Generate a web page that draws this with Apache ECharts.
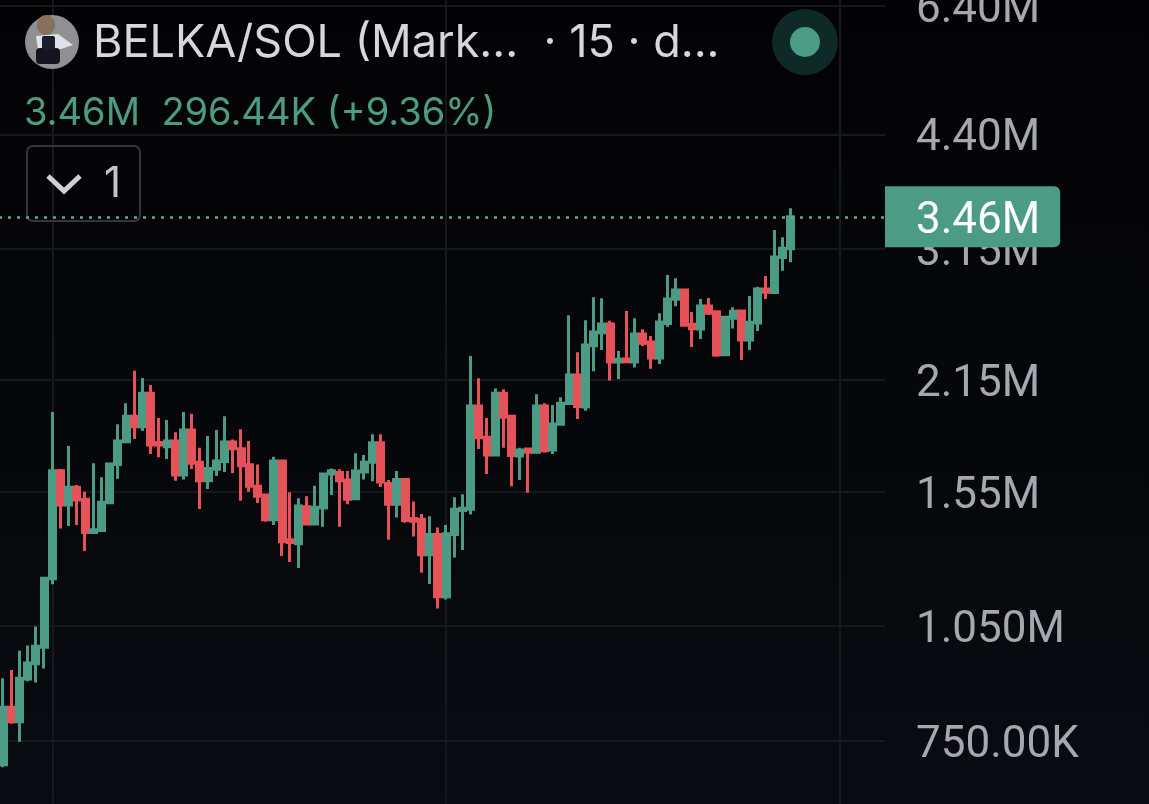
<!DOCTYPE html>
<html>
<head>
<meta charset="utf-8">
<title>BELKA/SOL</title>
<style>
  html, body { margin: 0; padding: 0; background: #08090d; }
  #chart { width: 1149px; height: 804px; }
</style>
<script src="https://cdn.jsdelivr.net/npm/echarts@6/dist/echarts.min.js"></script>
</head>
<body>
<div id="chart"></div>
<script>
const opens = [
  .700,.828,.794,.899,.940,.986,1.204,1.650,1.493,1.572,
  1.518,1.378,1.386,1.503,1.680,1.796,1.934,1.876,2.068,1.792,
  1.770,1.800,1.630,1.858,1.692,1.603,1.657,1.695,1.794,1.760,
  1.679,1.577,1.537,1.430,1.698,1.349,1.334,1.486,1.413,1.480,
  1.635,1.642,1.606,1.521,1.644,1.691,1.790,1.590,1.497,1.609,
  1.436,1.433,1.292,1.370,1.143,1.370,1.469,1.475,1.993,1.819,
  1.728,2.068,1.934,1.722,1.758,1.742,1.993,1.753,1.889,2.007,
  2.182,1.987,2.376,2.468,2.531,2.266,2.286,2.266,2.459,2.402,
  2.292,2.535,2.721,2.795,2.529,2.494,2.668,2.624,2.314,2.574,
  2.629,2.416,2.539,2.803,2.774,3.072,3.153
];
const closes = [
  .828,.794,.901,.942,.989,1.206,1.650,1.493,1.572,1.515,
  1.378,1.389,1.505,1.683,1.800,1.934,1.876,2.068,1.779,1.779,
  1.800,1.630,1.858,1.687,1.603,1.661,1.698,1.794,1.760,1.674,
  1.577,1.532,1.430,1.698,1.342,1.339,1.489,1.413,1.483,1.635,
  1.650,1.603,1.518,1.649,1.692,1.790,1.597,1.497,1.609,1.427,
  1.424,1.292,1.370,1.143,1.373,1.475,1.479,1.993,1.817,1.728,
  2.068,1.928,1.725,1.753,1.742,1.993,1.749,1.891,2.009,2.182,
  1.990,2.381,2.473,2.531,2.266,2.284,2.268,2.459,2.393,2.292,
  2.546,2.723,2.795,2.522,2.497,2.668,2.612,2.312,2.581,2.627,
  2.416,2.544,2.803,2.776,3.078,3.156,3.460
];
const lows = [
  .695,.789,.749,.893,.890,.927,1.185,1.394,1.405,1.409,
  1.306,1.376,1.384,1.501,1.612,1.788,1.810,1.853,1.733,1.716,
  1.708,1.603,1.609,1.659,1.476,1.565,1.625,1.644,1.639,1.512,
  1.552,1.502,1.422,1.409,1.287,1.265,1.243,1.411,1.411,1.402,
  1.537,1.402,1.497,1.518,1.609,1.600,1.574,1.349,1.440,1.418,
  1.362,1.226,1.186,1.104,1.134,1.281,1.310,1.452,1.758,1.635,
  1.725,1.765,1.577,1.606,1.548,1.740,1.740,1.733,1.886,2.004,
  1.919,1.966,2.206,2.346,2.146,2.156,2.266,2.229,2.374,2.221,
  2.252,2.511,2.665,2.520,2.367,2.423,2.599,2.300,2.307,2.499,
  2.279,2.346,2.480,2.723,2.771,2.957,3.030
];
const highs = [
  .901,.923,.976,.991,1.048,1.210,1.959,1.659,1.774,1.583,
  1.552,1.687,1.619,1.687,1.889,2.009,2.208,2.163,2.119,1.924,
  1.913,1.846,1.959,1.949,1.765,1.826,1.858,1.934,1.808,1.862,
  1.800,1.680,1.540,1.719,1.703,1.550,1.523,1.532,1.579,1.640,
  1.661,1.657,1.649,1.737,1.728,1.836,1.836,1.606,1.649,1.612,
  1.509,1.455,1.445,1.398,1.409,1.527,1.541,2.306,2.161,1.924,
  2.098,2.092,1.938,1.765,1.760,2.062,2.009,1.999,2.044,2.597,
  2.331,2.559,2.737,2.729,2.556,2.339,2.629,2.574,2.492,2.444,
  2.612,2.920,2.892,2.801,2.622,2.723,2.731,2.628,2.585,2.658,
  2.633,2.747,2.822,2.912,3.329,3.259,3.547
];

const tickValues = [0.75, 1.05, 1.55, 2.15, 3.15, 4.4, 6.4];
const tickLabels = ['750.00K', '1.050M', '1.55M', '2.15M', '3.15M', '4.40M', '6.40M'];
const lastPrice = 3.46;
const lastPriceLabel = '3.46M';

// 108 slots on the time axis, the last ones are empty room right of the latest candle
const categories = Array.from({ length: 108 }, (_, i) => String(i));

const green = '#4c9c85';
const red = '#e5525a';
const gridColor = '#17181c';
const fontFamily = 'Inter, "Noto Sans", sans-serif';
const axisFont = 'Roboto, Inter, sans-serif';

const candles = opens.map((o, i) => [o, closes[i], lows[i], highs[i]]);

const chart = echarts.init(document.getElementById('chart'), null, { renderer: 'canvas' });

chart.setOption({
  animation: false,
  backgroundColor: {
    type: 'linear', x: 0, y: 0, x2: 0, y2: 1,
    colorStops: [{ offset: 0, color: '#030305' }, { offset: 1, color: '#0a0b10' }]
  },
  // the 6.40M label runs off the top, so the grid must not shrink to keep it in
  grid: { left: -1, width: 886, top: 0, bottom: 0, outerBoundsMode: 'none' },
  xAxis: {
    type: 'category',
    data: categories,
    axisLine: { show: false },
    axisTick: { show: false },
    axisLabel: { show: false },
    splitLine: {
      show: true,
      alignWithLabel: true,
      interval: (i) => i % 48 === 6,
      lineStyle: { color: gridColor, width: 2 }
    }
  },
  yAxis: {
    type: 'log',
    position: 'right',
    min: 0.6245,
    max: 6.51,
    axisLine: { show: false },
    axisTick: { show: false, customValues: tickValues },
    splitLine: { show: true, lineStyle: { color: gridColor, width: 2 } },
    axisLabel: {
      customValues: tickValues,
      margin: 31,
      color: '#a6a7af',
      fontFamily: axisFont,
      fontSize: 44,
      // top aligned with a short line box drops the text a few px onto the gridline
      verticalAlign: 'top',
      lineHeight: 10,
      hideOverlap: false,
      formatter: (value) => {
        const i = tickValues.findIndex(v => Math.abs(v - value) < 0.01);
        return i >= 0 ? tickLabels[i] : '';
      }
    }
  },
  title: [
    {
      text: 'BELKA/SOL (Mark...  · 15 · d...',
      left: 93, top: 21, padding: 0,
      textStyle: { color: '#d6d7dd', fontFamily: fontFamily, fontSize: 45, fontWeight: 400 }
    },
    {
      text: '3.46M  296.44K (+9.36%)',
      left: 24, top: 95, padding: 0,
      textStyle: { color: green, fontFamily: fontFamily, fontSize: 38, fontWeight: 400 }
    }
  ],
  graphic: [
    // collapsed indicators button
    { type: 'rect', shape: { x: 27, y: 146, width: 113, height: 75, r: 6 }, z: 10,
      style: { fill: 'transparent', stroke: '#34363e', lineWidth: 2 } },
    { type: 'polyline', shape: { points: [[48, 176], [64, 191], [80, 176]] }, z: 10,
      style: { fill: 'none', stroke: '#d0d1d7', lineWidth: 5 } },
    { type: 'text', x: 104, y: 163, z: 10,
      style: { text: '1', fill: '#c4c5cc', font: '42px ' + fontFamily } },
    // status dot
    { type: 'circle', shape: { cx: 805, cy: 42, r: 33 }, z: 10, style: { fill: '#0f2a26' } },
    { type: 'circle', shape: { cx: 805, cy: 42, r: 15 }, z: 11, style: { fill: green } },
    // pair avatar
    { type: 'circle', shape: { cx: 52, cy: 42, r: 27 }, z: 10, style: { fill: '#908f92' } },
    { type: 'ellipse', shape: { cx: 46, cy: 25, rx: 9, ry: 10 }, z: 11, style: { fill: '#87705c' } },
    { type: 'polygon', shape: { points: [[36, 36], [58, 34], [73, 45], [58, 50], [38, 50]] }, z: 11, style: { fill: '#dfe1ea' } },
    { type: 'rect', shape: { x: 36, y: 48, width: 24, height: 16, r: 4 }, z: 12, style: { fill: '#15151d' } },
    { type: 'rect', shape: { x: 42, y: 36, width: 13, height: 14, r: 2 }, z: 12, style: { fill: '#1b1c2c' } }
  ],
  series: [
    {
      type: 'candlestick',
      data: candles,
      barWidth: 6.5,
      itemStyle: {
        color: green,
        color0: red,
        borderColor: green,
        borderColor0: red,
        borderWidth: 3
      },
      markLine: {
        silent: true,
        symbol: 'none',
        animation: false,
        z: 20,
        lineStyle: { color: '#5fa893', type: [3, 6], width: 2.5 },
        label: {
          show: true,
          position: 'end',
          distance: 0,
          formatter: () => '{v|' + lastPriceLabel + '}',
          backgroundColor: green,
          borderRadius: [0, 6, 6, 0],
          padding: [0, 20, 0, 31],
          rich: {
            v: {
              color: '#ffffff',
              fontFamily: axisFont,
              fontSize: 44,
              lineHeight: 61,
              height: 51,
              verticalAlign: 'bottom'
            }
          }
        },
        data: [{ yAxis: lastPrice }]
      }
    }
  ]
});
</script>
</body>
</html>
